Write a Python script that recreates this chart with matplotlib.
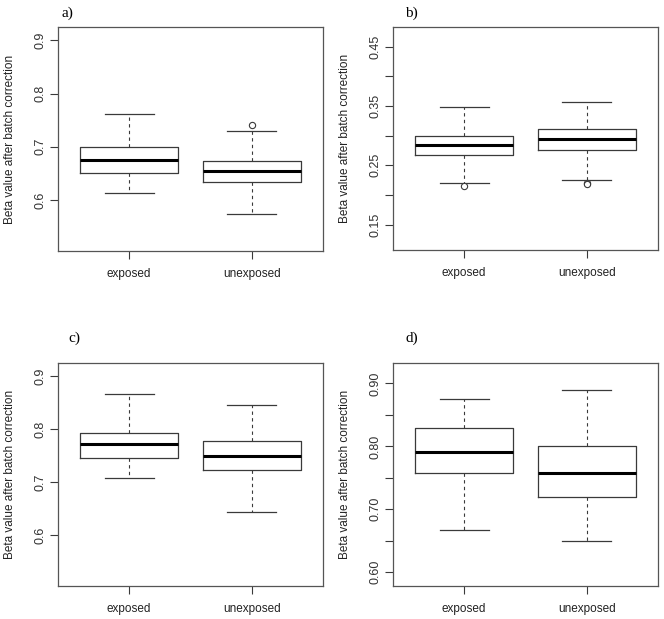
import matplotlib
matplotlib.use("Agg")
import matplotlib.pyplot as plt
from matplotlib.ticker import FixedLocator

groups = ["exposed", "unexposed"]

# (whislo, q1, med, q3, whishi) per group
a_stats = [(0.613, 0.651, 0.675, 0.700, 0.762), (0.573, 0.633, 0.654, 0.674, 0.729)]
a_fliers = [[], [0.740]]
b_stats = [(0.220, 0.267, 0.284, 0.300, 0.348), (0.225, 0.275, 0.295, 0.311, 0.356)]
b_fliers = [[0.2155], [0.220, 0.218]]
c_stats = [(0.708, 0.746, 0.772, 0.794, 0.867), (0.644, 0.723, 0.750, 0.778, 0.847)]
c_fliers = [[], []]
d_stats = [(0.667, 0.757, 0.791, 0.829, 0.876), (0.649, 0.720, 0.757, 0.800, 0.889)]
d_fliers = [[], []]

panel_labels = ["a)", "b)", "c)", "d)"]
ylims = [(0.504, 0.925), (0.107, 0.483), (0.504, 0.926), (0.578, 0.933)]
yticks = [[0.6, 0.7, 0.8, 0.9],
          [0.15, 0.20, 0.25, 0.30, 0.35, 0.40, 0.45],
          [0.6, 0.7, 0.8, 0.9],
          [0.60, 0.65, 0.70, 0.75, 0.80, 0.85, 0.90]]
ytick_labels = [["0.6", "0.7", "0.8", "0.9"],
                ["0.15", "", "0.25", "", "0.35", "", "0.45"],
                ["0.6", "0.7", "0.8", "0.9"],
                ["0.60", "", "0.70", "", "0.80", "", "0.90"]]

all_stats = [a_stats, b_stats, c_stats, d_stats]
all_fliers = [a_fliers, b_fliers, c_fliers, d_fliers]

# axes positions in figure fraction
positions = [[0.0873, 0.5945, 0.399, 0.3619],
             [0.5919, 0.5961, 0.399, 0.3603],
             [0.0873, 0.0533, 0.399, 0.3607],
             [0.5919, 0.0533, 0.399, 0.3607]]
label_xy = [(61, 13), (405, 13), (68, 338), (405, 338)]

line_col = "#3a3a3a"
fig = plt.figure(figsize=(6.64, 6.19), dpi=100)
plt.rcParams['font.family'] = ['Liberation Sans', 'DejaVu Sans']

for i in range(4):
    ax = fig.add_axes(positions[i])
    bstats = []
    for (lo, q1, med, q3, hi), fl in zip(all_stats[i], all_fliers[i]):
        bstats.append(dict(whislo=lo, q1=q1, med=med, q3=q3, whishi=hi, fliers=fl))
    ax.bxp(bstats, positions=[1, 2], widths=0.8, capwidths=0.4, patch_artist=False,
           boxprops=dict(color=line_col, linewidth=0.9),
           whiskerprops=dict(color=line_col, linewidth=0.8, linestyle=(0, (3, 3))),
           capprops=dict(color=line_col, linewidth=0.9),
           medianprops=dict(color="black", linewidth=2.2),
           flierprops=dict(marker="o", markerfacecolor="white", markeredgecolor=line_col,
                           markersize=4.5, markeredgewidth=0.8))
    ax.set_xlim(0.42, 2.58)
    ax.set_ylim(*ylims[i])
    ax.yaxis.set_major_locator(FixedLocator(yticks[i]))
    ax.set_yticklabels(ytick_labels[i], rotation=90, va="center", fontsize=9, color="#333333")
    ax.set_xticks([1, 2])
    ax.set_xticklabels(groups, fontsize=8.5, color="#222222")
    ax.tick_params(axis="both", length=5.5, width=0.8, color=line_col, pad=3)
    ax.tick_params(axis="x", pad=7)
    for sp in ax.spines.values():
        sp.set_color("#555555")
        sp.set_linewidth(0.9)
    ax.set_ylabel("Beta value after batch correction", fontsize=8.5, color="#222222")
    ax.yaxis.set_label_coords(-0.16, 0.5)
    fig.text(label_xy[i][0] / 664, 1 - label_xy[i][1] / 619, panel_labels[i],
             family="Liberation Serif", fontsize=11, va="center", ha="left")

fig.savefig("out.png", dpi=100)
